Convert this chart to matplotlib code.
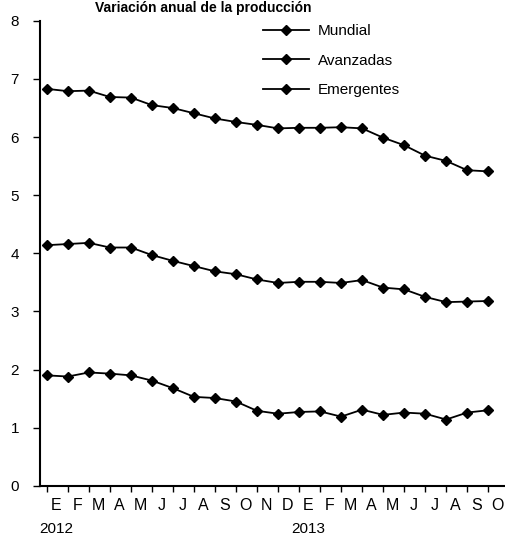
import matplotlib.pyplot as plt

plt.rcParams['font.family'] = ['Liberation Sans', 'DejaVu Sans']

# Meses ene-2012 a oct-2013
meses = ['E', 'F', 'M', 'A', 'M', 'J', 'J', 'A', 'S', 'O', 'N', 'D',
         'E', 'F', 'M', 'A', 'M', 'J', 'J', 'A', 'S', 'O']
anios = ['2012', '2013']
anio_pos = [0, 12]

mundial = [6.83, 6.79, 6.80, 6.69, 6.68, 6.55, 6.50, 6.41, 6.32, 6.26, 6.21,
           6.15, 6.16, 6.16, 6.17, 6.15, 5.99, 5.86, 5.68, 5.59, 5.43, 5.41]
avanzadas = [4.14, 4.16, 4.18, 4.10, 4.10, 3.97, 3.87, 3.78, 3.69, 3.64, 3.55,
             3.49, 3.51, 3.51, 3.49, 3.54, 3.41, 3.38, 3.25, 3.16, 3.17, 3.18]
emergentes = [1.90, 1.88, 1.95, 1.93, 1.90, 1.81, 1.68, 1.53, 1.51, 1.45, 1.29,
              1.24, 1.27, 1.28, 1.19, 1.31, 1.22, 1.26, 1.24, 1.14, 1.26, 1.30]

x = list(range(len(meses)))

fig = plt.figure(figsize=(5.05, 5.35), dpi=100)
ax = fig.add_axes([0.079, 0.092, 0.921, 0.869])

estilo = dict(color='black', linewidth=1.3, marker='D', markersize=5)
ax.plot(x, mundial, label='Mundial', **estilo)
ax.plot(x, avanzadas, label='Avanzadas', **estilo)
ax.plot(x, emergentes, label='Emergentes', **estilo)

ax.set_ylim(0, 8)
ax.set_xlim(-0.33, 21.8)
ax.set_yticks(range(0, 9))
ax.tick_params(axis='y', labelsize=11, length=5, width=1, pad=10)

# marcas en cada mes, etiquetas corridas medio paso
ax.set_xticks(x)
ax.set_xticklabels([])
ax.tick_params(axis='x', which='major', length=4, width=1)
ax.set_xticks([i + 0.45 for i in x], minor=True)
ax.set_xticklabels(meses, minor=True)
ax.tick_params(axis='x', which='minor', length=0, labelsize=11.5, pad=9)

for a, p in zip(anios, anio_pos):
    ax.text(p + 0.45, -0.62, a, ha='center', va='top', fontsize=11,
            transform=ax.transData, clip_on=False)

for s in ['top', 'right']:
    ax.spines[s].set_visible(False)
ax.spines['left'].set_linewidth(1.5)
ax.spines['bottom'].set_linewidth(1.5)

ax.legend(frameon=False, fontsize=11, loc='upper left',
          bbox_to_anchor=(0.493, 0.98), bbox_transform=fig.transFigure,
          handlelength=3.0, handletextpad=0.6, labelspacing=1.0)

fig.text(0.188, 0.999, 'Variación anual de la producción', fontsize=10,
         fontweight='bold', va='top', ha='left')

plt.savefig('out.png', dpi=100)
